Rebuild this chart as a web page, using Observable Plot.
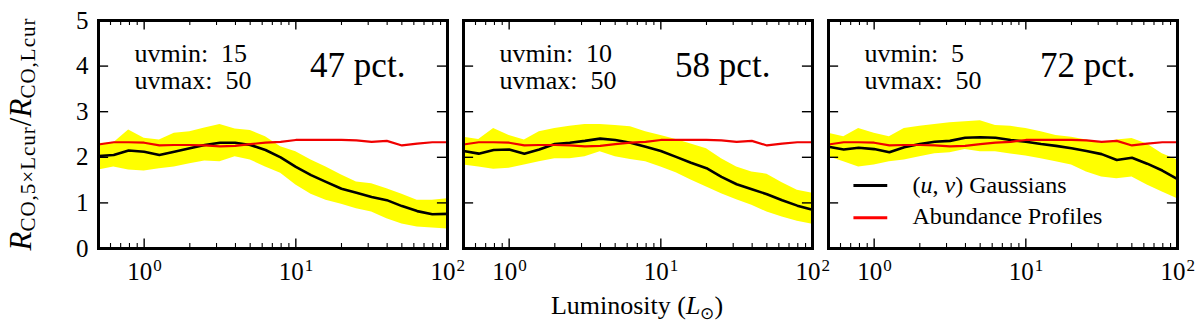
<!DOCTYPE html>
<html>
<head>
<meta charset="utf-8">
<script src="https://cdn.jsdelivr.net/npm/d3@7"></script>
<script src="https://cdn.jsdelivr.net/npm/@observablehq/plot@0.6"></script>
<style>
  html, body { margin: 0; padding: 0; background: #fff; }
  svg { display: block; }
  svg text { font-family: "Liberation Serif", serif; }
</style>
</head>
<body>
<div id="chart"></div>
<script>
// ---------- data ----------
const panels = ["p1", "p2", "p3"];
const uvmin = [15, 10, 5];
const uvmax = [50, 50, 50];
const pct = [47, 58, 72];

const lum = [0.5, 0.63, 0.79, 1.0, 1.26, 1.58, 2.0, 2.51, 3.16, 3.98, 5.01, 6.31,
             7.94, 10, 12.6, 15.8, 20, 25.1, 31.6, 39.8, 50.1, 63.1, 79.4, 100];

// (u,v) Gaussians median ratio per panel
const gauss1 = [2.03, 2.05, 2.15, 2.12, 2.05, 2.12, 2.20, 2.27, 2.32, 2.32, 2.27, 2.16,
                2.00, 1.79, 1.61, 1.46, 1.31, 1.22, 1.13, 1.06, 0.93, 0.82, 0.75, 0.76];
const gauss2 = [2.14, 2.08, 2.16, 2.17, 2.08, 2.17, 2.29, 2.32, 2.36, 2.41, 2.38, 2.32,
                2.23, 2.14, 2.01, 1.88, 1.76, 1.57, 1.41, 1.30, 1.19, 1.06, 0.94, 0.85];
const gauss3 = [2.23, 2.17, 2.21, 2.18, 2.11, 2.22, 2.29, 2.34, 2.36, 2.43, 2.44, 2.43,
                2.38, 2.34, 2.29, 2.25, 2.20, 2.14, 2.07, 1.94, 1.99, 1.86, 1.71, 1.52];

// spread (yellow band) upper / lower
const hi1 = [2.30, 2.32, 2.60, 2.42, 2.38, 2.53, 2.56, 2.64, 2.72, 2.62, 2.59, 2.45,
             2.23, 2.12, 1.94, 1.79, 1.61, 1.46, 1.42, 1.31, 1.19, 1.06, 1.06, 1.09];
const lo1 = [1.72, 1.79, 1.72, 1.70, 1.75, 1.79, 1.86, 1.92, 1.90, 2.01, 1.94, 1.79,
             1.65, 1.39, 1.19, 1.06, 0.97, 0.87, 0.80, 0.65, 0.54, 0.47, 0.45, 0.43];
const hi2 = [2.44, 2.39, 2.63, 2.48, 2.38, 2.56, 2.63, 2.68, 2.72, 2.72, 2.70, 2.67,
             2.56, 2.48, 2.39, 2.29, 2.19, 1.97, 1.79, 1.68, 1.63, 1.44, 1.28, 1.21];
const lo2 = [1.83, 1.79, 1.74, 1.76, 1.83, 1.90, 1.97, 1.97, 2.01, 2.12, 2.01, 1.95,
             1.90, 1.79, 1.66, 1.50, 1.35, 1.20, 1.07, 0.95, 0.80, 0.69, 0.60, 0.53];
const hi3 = [2.53, 2.45, 2.63, 2.53, 2.45, 2.63, 2.68, 2.72, 2.76, 2.78, 2.80, 2.70,
             2.68, 2.63, 2.56, 2.48, 2.44, 2.38, 2.31, 2.38, 2.41, 2.29, 2.08, 1.94];
const lo3 = [2.01, 1.90, 1.79, 1.83, 1.90, 1.94, 2.01, 2.08, 2.10, 2.17, 2.12, 2.12,
             2.07, 2.03, 1.97, 1.90, 1.83, 1.68, 1.57, 1.53, 1.57, 1.39, 1.24, 1.09];

// Abundance profiles (same in every panel)
const abund = [2.28, 2.33, 2.33, 2.32, 2.26, 2.27, 2.27, 2.26, 2.24, 2.25, 2.29, 2.32,
               2.34, 2.38, 2.38, 2.38, 2.38, 2.37, 2.34, 2.36, 2.26, 2.30, 2.33, 2.33];

const xMajorTicks = [1, 10];
const xMinorTicks = [0.6, 0.7, 0.8, 0.9, 2, 3, 4, 5, 6, 7, 8, 9, 20, 30, 40, 50, 60, 70, 80, 90];
const xTickLabels = [1, 10, 100];
const xTickExps = ["0", "1", "2"];
const yTicks = [1, 2, 3, 4];
const yTickLabels = [0, 1, 2, 3, 4, 5];

const legendNames = ["(u, v) Gaussians", "Abundance Profiles"];
const legendColors = ["black", "red"];

// ---------- build tables ----------
const gauss = [gauss1, gauss2, gauss3];
const his = [hi1, hi2, hi3];
const los = [lo1, lo2, lo3];
const rows = [];
panels.forEach((p, i) => lum.forEach((L, j) => rows.push({
  panel: p, L, g: gauss[i][j], hi: his[i][j], lo: los[i][j], a: abund[j]
})));
const info = panels.map((p, i) => ({panel: p, uvmin: uvmin[i], uvmax: uvmax[i], pct: pct[i]}));
const legend = legendNames.map((n, i) => ({name: n, color: legendColors[i], i}));

const FONT = "'Liberation Serif', serif";
const legY = [1.38, 0.673];      // legend line rows (data units)
const legTextY = [1.213, 0.542]; // baselines
const lastPanel = () => panels[2];
const firstPanel = () => panels[0];

const svg = Plot.plot({
  width: 1200,
  height: 327,
  marginLeft: 97,
  marginRight: 22,
  marginTop: 20,
  marginBottom: 79,
  style: {fontFamily: FONT, background: "white", color: "black"},
  fx: {domain: panels, paddingInner: 0.045, paddingOuter: 0, axis: null},
  x: {type: "log", domain: [0.5, 100], axis: null},
  y: {domain: [0, 5], axis: null},
  marks: [
    Plot.areaY(rows, {fx: "panel", x: "L", y1: "lo", y2: "hi", fill: "#ffff00", curve: "linear"}),
    Plot.lineY(rows, {fx: "panel", x: "L", y: "g", stroke: "black", strokeWidth: 2.6}),
    Plot.lineY(rows, {fx: "panel", x: "L", y: "a", stroke: "#f00000", strokeWidth: 2.2}),
    // inward ticks
    Plot.ruleX(xMajorTicks, {x: d => d, y1: 0, y2: 0.21, stroke: "black", strokeWidth: 1.4}),
    Plot.ruleX(xMajorTicks, {x: d => d, y1: 5, y2: 4.79, stroke: "black", strokeWidth: 1.4}),
    Plot.ruleX(xMinorTicks, {x: d => d, y1: 0, y2: 0.11, stroke: "black", strokeWidth: 1.1}),
    Plot.ruleX(xMinorTicks, {x: d => d, y1: 5, y2: 4.89, stroke: "black", strokeWidth: 1.1}),
    Plot.ruleY(yTicks, {y: d => d, x1: 0.5, x2: 0.583, stroke: "black", strokeWidth: 1.4}),
    Plot.ruleY(yTicks, {y: d => d, x1: 85.8, x2: 100, stroke: "black", strokeWidth: 1.4}),
    Plot.frame({stroke: "black", strokeWidth: 3}),
    // tick labels
    Plot.text(xTickLabels, {x: d => d, y: -0.68, text: () => "10", textAnchor: "end", dx: 8,
      lineAnchor: "bottom", fontSize: 25, fontFamily: FONT, fill: "black"}),
    Plot.text(xTickLabels, {x: d => d, y: -0.68, text: (d, i) => xTickExps[i], textAnchor: "start", dx: 9, dy: -9,
      lineAnchor: "bottom", fontSize: 17, fontFamily: FONT, fill: "black"}),
    Plot.text(yTickLabels, {fx: firstPanel, x: 0.5, y: d => d, text: d => String(d), textAnchor: "end", dx: -10,
      lineAnchor: "middle", fontSize: 25, fontFamily: FONT, fill: "black"}),
    // annotations
    Plot.text(info, {fx: "panel", x: 0.863, y: 4.085, text: d => `uvmin:\u00a0 ${d.uvmin}`, textAnchor: "start",
      lineAnchor: "bottom", fontSize: 26, fontFamily: FONT, fill: "black"}),
    Plot.text(info, {fx: "panel", x: 0.863, y: 3.50, text: d => `uvmax:\u00a0 ${d.uvmax}`, textAnchor: "start",
      lineAnchor: "bottom", fontSize: 26, fontFamily: FONT, fill: "black"}),
    Plot.text(info, {fx: "panel", x: 25.6, y: 3.76, text: d => `${d.pct} pct.`, textAnchor: "middle",
      lineAnchor: "bottom", fontSize: 35, fontFamily: FONT, fill: "black"}),
    // legend
    Plot.link(legend, {fx: lastPanel, x1: 0.73, x2: 1.22, y1: d => legY[d.i], y2: d => legY[d.i],
      stroke: d => d.color, strokeWidth: 3}),
    Plot.text(legend, {fx: lastPanel, x: 1.79, y: d => legTextY[d.i], text: "name", textAnchor: "start",
      lineAnchor: "bottom", fontSize: 24, fontFamily: FONT, fill: "black"})
  ]
});

// Axis titles with sub/superscripts
const s = d3.select(svg);
const yl = s.append("text")
  .attr("transform", "translate(31,134) rotate(-90)")
  .attr("text-anchor", "middle")
  .style("font-family", FONT)
  .attr("fill", "black");
yl.append("tspan").style("font-style", "italic").style("font-size", "31px").text("R");
yl.append("tspan").style("font-size", "21px").attr("dy", 4).attr("letter-spacing", 1).text("CO,5×Lcur");
yl.append("tspan").style("font-size", "31px").attr("dy", -4).text("/");
yl.append("tspan").style("font-style", "italic").style("font-size", "31px").text("R");
yl.append("tspan").style("font-size", "21px").attr("dy", 4).attr("letter-spacing", 1).text("CO,Lcur");

const xl = s.append("text")
  .attr("x", 637).attr("y", 314)
  .attr("text-anchor", "middle")
  .style("font-family", FONT)
  .style("font-size", "26px")
  .attr("fill", "black");
xl.append("tspan").text("Luminosity (");
xl.append("tspan").style("font-style", "italic").text("L");
xl.append("tspan").style("font-size", "17px").attr("dy", 5).text("⊙");
xl.append("tspan").attr("dy", -5).text(")");

// italic u, v in legend text
s.selectAll("text").each(function() {
  if (this.textContent === "(u, v) Gaussians") {
    const t = d3.select(this);
    t.text(null);
    t.append("tspan").text("(");
    t.append("tspan").style("font-style", "italic").text("u");
    t.append("tspan").text(", ");
    t.append("tspan").style("font-style", "italic").text("v");
    t.append("tspan").text(") Gaussians");
  }
});

document.getElementById("chart").appendChild(svg);
</script>
</body>
</html>
